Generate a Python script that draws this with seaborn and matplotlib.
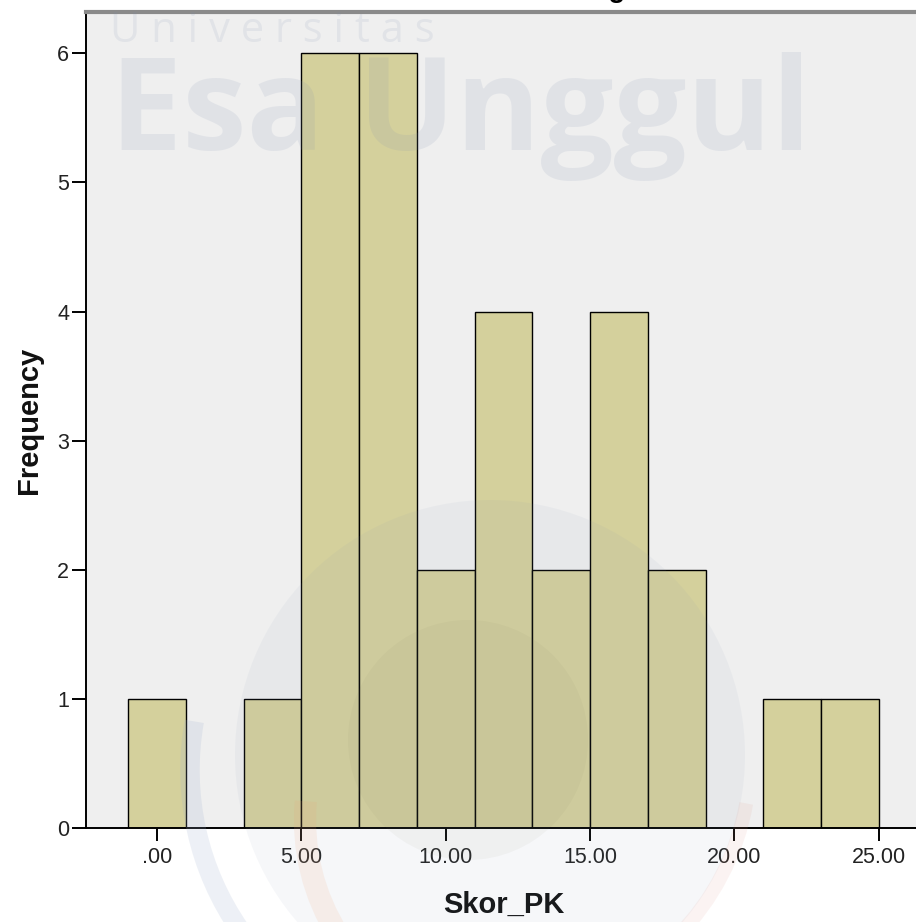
import numpy as np
import pandas as pd
import matplotlib
matplotlib.use("Agg")
import matplotlib.pyplot as plt
import matplotlib.patches as mpatches
from matplotlib.transforms import IdentityTransform
import seaborn as sns

# Histogram data (bin centres, width 2)
bin_centers = [0, 2, 4, 6, 8, 10, 12, 14, 16, 18, 20, 22, 24]
frequencies = [1, 0, 1, 6, 6, 2, 4, 2, 4, 2, 0, 1, 1]
x_ticks = [0, 5, 10, 15, 20, 25]
x_tick_labels = [".00", "5.00", "10.00", "15.00", "20.00", "25.00"]
y_ticks = [0, 1, 2, 3, 4, 5, 6]

bin_width = 2
bin_edges = list(np.append(np.array(bin_centers) - bin_width / 2,
                           bin_centers[-1] + bin_width / 2))
df = pd.DataFrame({"Skor_PK": bin_centers, "freq": frequencies})

sns.set_style("white")
plt.rcParams["font.family"] = ["Liberation Sans", "DejaVu Sans"]

W, H = 916, 922
fig = plt.figure(figsize=(W / 100, H / 100), dpi=100, facecolor="white")
ax = fig.add_axes([86 / W, (H - 828) / H, 835 / W, 816 / H])
ax.set_facecolor("#EFEFEF")

sns.histplot(data=df, x="Skor_PK", weights="freq", bins=bin_edges, color="#D4D09C",
             edgecolor="black", linewidth=1.0, alpha=1, ax=ax)

ax.set_xlim(-2.46, 26.46)
ax.set_ylim(0, 6.32)
ax.set_xticks(x_ticks)
ax.set_xticklabels(x_tick_labels)
ax.set_yticks(y_ticks)
ax.set_yticklabels([str(v) for v in y_ticks])
ax.tick_params(axis="x", bottom=True, direction="out", length=9, width=1.4, pad=5,
               labelsize=15.5, colors="black", labelcolor="#222222")
ax.tick_params(axis="y", left=True, direction="out", length=10, width=1.4, pad=2,
               labelsize=15.5, colors="black", labelcolor="#222222")
ax.grid(False)

for side in ["left", "bottom"]:
    ax.spines[side].set_color("black")
    ax.spines[side].set_linewidth(1.4)
ax.spines["top"].set_color("#8a8a8a")
ax.spines["top"].set_linewidth(3)
ax.spines["right"].set_visible(False)

ax.set_xlabel("Skor_PK", fontsize=21, fontweight="bold", color="#111111")
ax.set_ylabel("Frequency", fontsize=21, fontweight="bold", color="#111111")
ax.xaxis.set_label_coords(0.5, -0.077)
ax.yaxis.set_label_coords(-0.052, 0.5)

# title cut off at the top edge, only the descender shows
fig.text(608 / W, 1 + 3 / H, "Histogram", ha="center", va="baseline",
         fontsize=20, fontweight="bold", color="black")

# faint watermark logo
px = IdentityTransform()
fig.add_artist(mpatches.Circle((490, H - 755), 255, transform=px,
                               facecolor="#8095b5", alpha=0.07, edgecolor="none"))
fig.add_artist(mpatches.Circle((468, H - 740), 120, transform=px,
                               facecolor="#707050", alpha=0.05, edgecolor="none"))
fig.add_artist(mpatches.Arc((470, H - 770), 560, 560, theta1=170, theta2=260,
                            transform=px, color="#9fb0d0", alpha=0.18, linewidth=14))
fig.add_artist(mpatches.Arc((520, H - 820), 430, 430, theta1=175, theta2=250,
                            transform=px, color="#f0a070", alpha=0.12, linewidth=16))
fig.add_artist(mpatches.Arc((500, H - 760), 500, 500, theta1=280, theta2=350,
                            transform=px, color="#e09080", alpha=0.10, linewidth=10))

# watermark text
fig.text(110 / W, (H - 150) / H, "Esa Unggul", fontsize=93, fontweight="bold",
         family=["Open Sans", "DejaVu Sans"], color="#8090b0", alpha=0.13,
         ha="left", va="baseline")
fig.text(110 / W, (H - 42) / H, "U n i v e r s i t a s", fontsize=30,
         family=["Open Sans", "DejaVu Sans"], color="#8090b0", alpha=0.12,
         ha="left", va="baseline")

fig.savefig("out.png", dpi=100, facecolor="white")
